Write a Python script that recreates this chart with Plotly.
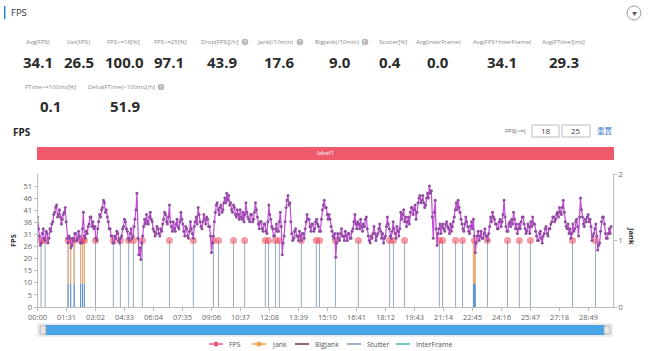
import plotly.graph_objects as go

W, H = 648, 351
FONT = "Open Sans, Noto Sans, Noto Sans CJK SC, sans-serif"

# ---------------- data ----------------
stat_labels_1 = ["Avg(FPS)", "Var(FPS)", "FPS>=18[%]", "FPS>=25[%]", "Drop(FPS)[/h]",
                 "Jank(/10min)", "BigJank(/10min)", "Stutter[%]", "Avg(InterFrame)",
                 "Avg(FPS+InterFrame)", "Avg(FTime)[ms]"]
stat_values_1 = ["34.1", "26.5", "100.0", "97.1", "43.9", "17.6", "9.0", "0.4", "0.0", "34.1", "29.3"]
stat_labels_2 = ["FTime>=100ms[%]", "Delta(FTime)>100ms[/h]"]
stat_values_2 = ["0.1", "51.9"]

fps_step_s = 3
fps_values = [
    38, 33, 30, 26, 27, 31, 33, 29, 28, 32, 31, 27, 29, 33, 32, 35, 36, 39, 40, 42,
    43, 38, 39, 41, 38, 35, 37, 39, 40, 42, 36, 29, 27, 30, 29, 25, 26, 29, 28, 31,
    31, 28, 29, 32, 30, 27, 27, 33, 40, 30, 29, 32, 31, 34, 35, 38, 38, 34, 36, 33,
    34, 29, 28, 33, 36, 39, 38, 41, 42, 45, 44, 40, 41, 38, 36, 33, 33, 30, 30, 27,
    27, 30, 29, 32, 31, 28, 27, 29, 30, 33, 34, 37, 36, 33, 32, 29, 28, 31, 33, 29,
    30, 34, 37, 41, 48, 29, 22, 25, 20, 27, 30, 34, 37, 35, 39, 36, 35, 38, 40, 37,
    36, 33, 32, 30, 31, 34, 33, 31, 30, 33, 32, 35, 37, 40, 39, 36, 35, 38, 43, 36,
    34, 32, 36, 33, 32, 35, 37, 34, 33, 36, 40, 37, 35, 32, 30, 34, 33, 30, 29, 32,
    36, 33, 31, 29, 34, 36, 38, 35, 42, 39, 36, 34, 33, 36, 39, 37, 35, 38, 37, 34,
    34, 30, 23, 27, 30, 36, 40, 43, 44, 41, 39, 42, 43, 40, 41, 44, 46, 44, 48, 45,
    47, 43, 44, 41, 40, 43, 42, 39, 38, 41, 39, 37, 41, 38, 37, 40, 36, 39, 44, 40,
    38, 37, 36, 39, 39, 36, 37, 40, 44, 41, 38, 35, 33, 36, 36, 33, 32, 35, 35, 32,
    31, 36, 43, 39, 37, 34, 33, 30, 30, 33, 35, 32, 32, 36, 40, 34, 22, 27, 30, 36,
    42, 45, 47, 43, 44, 36, 31, 28, 29, 32, 33, 30, 30, 28, 32, 30, 28, 31, 31, 29,
    33, 36, 39, 37, 37, 34, 32, 35, 35, 32, 33, 36, 37, 35, 34, 32, 32, 37, 41, 43,
    45, 42, 42, 39, 37, 39, 37, 34, 32, 30, 29, 31, 21, 27, 31, 29, 28, 31, 33, 30,
    30, 28, 32, 30, 28, 31, 31, 29, 29, 32, 33, 36, 39, 35, 33, 36, 35, 33, 37, 34,
    32, 35, 34, 37, 38, 33, 30, 28, 27, 30, 29, 31, 34, 31, 28, 30, 31, 33, 35, 32,
    29, 31, 27, 29, 30, 34, 38, 35, 33, 30, 29, 32, 36, 33, 31, 29, 34, 32, 30, 33,
    40, 37, 39, 41, 36, 38, 34, 36, 38, 35, 40, 42, 42, 39, 41, 43, 37, 40, 44, 46,
    47, 44, 45, 47, 44, 42, 43, 46, 48, 46, 51, 48, 49, 38, 29, 40, 45, 33, 26, 31,
    33, 35, 31, 34, 35, 33, 32, 35, 36, 34, 33, 31, 35, 32, 34, 36, 38, 41, 44, 41,
    45, 42, 40, 37, 35, 33, 32, 35, 38, 36, 34, 32, 31, 34, 36, 33, 37, 30, 23, 27,
    30, 32, 28, 30, 32, 29, 29, 31, 33, 30, 30, 28, 31, 34, 38, 36, 40, 38, 37, 35,
    35, 33, 33, 36, 37, 34, 36, 39, 45, 38, 34, 32, 32, 35, 36, 34, 37, 35, 40, 37,
    33, 35, 31, 33, 35, 33, 36, 38, 38, 35, 33, 31, 32, 35, 34, 31, 36, 34, 38, 35,
    35, 32, 30, 28, 28, 31, 32, 29, 27, 30, 31, 33, 34, 31, 30, 33, 33, 35, 36, 38,
    38, 36, 37, 39, 40, 38, 42, 40, 39, 42, 45, 40, 36, 34, 33, 35, 31, 33, 29, 31,
    35, 32, 33, 36, 37, 34, 30, 38, 46, 41, 38, 35, 34, 37, 36, 38, 39, 36, 37, 34,
    28, 30, 31, 33, 35, 30, 24, 26, 27, 32, 36, 38, 38, 35, 31, 29, 29, 31, 33, 31,
    34,
]
fps_times = [i * fps_step_s for i in range(len(fps_values))]

# jank events (seconds)
jank_times = [11, 24, 96, 104, 115, 135, 141, 147, 182, 238, 260, 286, 301, 329, 414,
              489, 552, 568, 615, 650, 715, 725, 747, 759, 828, 875, 885, 935, 1007,
              1105, 1117, 1152, 1261, 1271, 1312, 1334, 1371, 1412, 1475, 1512, 1547,
              1679, 1751]
orange_jank_times = [96, 104, 115, 135, 141, 147, 1368, 1371, 1374]

x_tick_seconds = [0, 91, 182, 273, 364, 455, 546, 637, 728, 819, 910, 1001, 1092,
                  1183, 1274, 1365, 1456, 1547, 1638, 1729]
x_tick_labels = ["00:00", "01:31", "03:02", "04:33", "06:04", "07:35", "09:06", "10:37",
                 "12:08", "13:39", "15:10", "16:41", "18:12", "19:43", "21:14", "22:45",
                 "24:16", "25:47", "27:18", "28:49"]
fps_tick_vals = [0, 5.1, 10.2, 15.3, 20.4, 25.5, 30.6, 35.7, 40.8, 45.9, 51.0]
fps_tick_labels = ["0", "5", "10", "15", "20", "26", "31", "36", "41", "46", "51"]
jank_tick_vals = [0, 1, 2]

legend_names = ["FPS", "Jank", "BigJank", "Stutter", "InterFrame"]
legend_colors = ["#e4607a", "#f0a050", "#7a2f48", "#7f97b8", "#46b5a5"]
legend_has_marker = [True, True, False, False, False]


def px(x):
    return x / W


def py(y):
    return 1 - y / H


def vlines(times, y0, y1):
    xs, ys = [], []
    for t in times:
        xs += [t, t, None]
        ys += [y0, y1, None]
    return xs, ys


fig = go.Figure()

# vertical event lines (jank axis, drawn beneath FPS)
sx, sy = vlines(jank_times, 0, 1)
fig.add_trace(go.Scatter(x=sx, y=sy, mode="lines", line=dict(color="#8da0bb", width=0.9),
                         yaxis="y", hoverinfo="skip", name="Stutter"))
ox, oy = vlines(orange_jank_times, 0.35, 1)
fig.add_trace(go.Scatter(x=ox, y=oy, mode="lines", line=dict(color="#ecab72", width=1.1),
                         yaxis="y", hoverinfo="skip", name="Jank"))
bx, by = vlines(orange_jank_times, 0, 0.35)
fig.add_trace(go.Scatter(x=bx, y=by, mode="lines", line=dict(color="#6496cf", width=1.1),
                         yaxis="y", hoverinfo="skip", name="Stutter2"))

# jank markers
fig.add_trace(go.Scatter(x=jank_times, y=[1] * len(jank_times), mode="markers", yaxis="y",
                         marker=dict(color="rgba(236,72,88,0.55)", size=7,
                                     line=dict(width=0)),
                         name="Jank points"))

# FPS line
fig.add_trace(go.Scatter(x=fps_times, y=fps_values, mode="lines+markers", yaxis="y2",
                         line=dict(color="#c24bd6", width=1.2),
                         marker=dict(color="#8f4d9f", size=3),
                         name="FPS"))

shapes = []
annotations = []


def text(t, x, y, size, color, anchor="center", angle=0, family=FONT):
    annotations.append(dict(text=t, x=px(x), y=py(y), xref="paper", yref="paper",
                            xanchor=anchor, yanchor="middle", showarrow=False,
                            textangle=angle, font=dict(size=size, color=color,
                                                       family=family)))


# header
shapes.append(dict(type="rect", xref="paper", yref="paper", x0=px(4), x1=px(5.5),
                   y0=py(19), y1=py(6), fillcolor="#2f7fd6", line=dict(width=0)))
text("FPS", 9, 12.5, 9.5, "#333", anchor="left")
shapes.append(dict(type="circle", xref="paper", yref="paper", x0=px(627), x1=px(641),
                   y0=py(20), y1=py(6), line=dict(color="#999", width=1),
                   fillcolor="white"))
text("▼", 634, 13, 5, "#555")

# stats
label_cx_1 = [38, 78, 123, 170, 219, 275, 337, 393, 438, 502, 563]
value_cx_1 = [38, 79, 124, 169, 222, 279, 340, 390, 438, 502, 564]
for lab, val, lx, vx in zip(stat_labels_1, stat_values_1, label_cx_1, value_cx_1):
    text(lab, lx, 42, 6, "#8a8a8a")
    text("<b>" + val + "</b>", vx, 62, 15, "#2b2b2b")
label_cx_2 = [50, 121]
value_cx_2 = [50, 125]
for lab, val, lx, vx in zip(stat_labels_2, stat_values_2, label_cx_2, value_cx_2):
    text(lab, lx, 87, 6, "#8a8a8a")
    text("<b>" + val + "</b>", vx, 106, 15, "#2b2b2b")
for qx, qy in [(245, 42), (300, 42), (365, 42), (161, 87)]:
    shapes.append(dict(type="circle", xref="paper", yref="paper", x0=px(qx - 3.3),
                       x1=px(qx + 3.3), y0=py(qy + 3.3), y1=py(qy - 3.3),
                       fillcolor="#b8b8b8", line=dict(width=0)))
    text("?", qx, qy, 5, "white")

# chart title + threshold controls
text("<b>FPS</b>", 11, 132, 10, "#222", anchor="left")
text("FPS(>=)", 528, 131, 6, "#666", anchor="right")
for x0, x1, t in [(532, 559, "18"), (562, 590, "25")]:
    shapes.append(dict(type="rect", xref="paper", yref="paper", x0=px(x0), x1=px(x1),
                       y0=py(137), y1=py(125), line=dict(color="#bbb", width=1),
                       fillcolor="white"))
    text(t, (x0 + x1) / 2, 131, 8, "#444")
text("重置", 605, 131, 7.5, "#4a7fd0", family="Noto Sans CJK SC")

# label band
shapes.append(dict(type="rect", xref="paper", yref="paper", x0=px(37), x1=px(614),
                   y0=py(160), y1=py(147), fillcolor="#ee5a6c", line=dict(width=0)))
text("label1", 325, 153.5, 6, "white")

# axis titles
text("<b>FPS</b>", 13, 241, 7.5, "#333", angle=-90)
text("<b>Jank</b>", 632, 236, 7.5, "#333", angle=90)

# data zoom slider look
shapes.append(dict(type="rect", xref="paper", yref="paper", x0=px(38), x1=px(612),
                   y0=py(336), y1=py(324), fillcolor="#f3f3f3",
                   line=dict(color="#ddd", width=1)))
shapes.append(dict(type="rect", xref="paper", yref="paper", x0=px(45), x1=px(605),
                   y0=py(335), y1=py(325), fillcolor="#47a4e6", line=dict(width=0)))
for x0, x1 in [(40, 46), (604, 610)]:
    shapes.append(dict(type="rect", xref="paper", yref="paper", x0=px(x0), x1=px(x1),
                       y0=py(334), y1=py(326), fillcolor="#e6e6e6",
                       line=dict(color="#aaa", width=0.8)))

# legend (drawn)
legend_sym_cx = [216, 259, 302, 354, 403]
for n, c, mk, cx in zip(legend_names, legend_colors, legend_has_marker, legend_sym_cx):
    shapes.append(dict(type="line", xref="paper", yref="paper", x0=px(cx - 7),
                       x1=px(cx + 7), y0=py(344), y1=py(344),
                       line=dict(color=c, width=1.5)))
    if mk:
        shapes.append(dict(type="circle", xref="paper", yref="paper", x0=px(cx - 2.5),
                           x1=px(cx + 2.5), y0=py(346.5), y1=py(341.5),
                           fillcolor=c, line=dict(width=0)))
    text(n, cx + 11, 344, 7, "#555", anchor="left")

axis_common = dict(showgrid=False, zeroline=False, showline=True, linecolor="#bbb",
                   linewidth=1, ticks="outside", ticklen=3, tickcolor="#bbb",
                   automargin=False,
                   tickfont=dict(size=7.5, color="#666", family=FONT))

fig.update_layout(
    width=W, height=H, autosize=False,
    margin=dict(l=0, r=0, t=0, b=0, pad=0),
    paper_bgcolor="white", plot_bgcolor="white",
    font=dict(family=FONT),
    showlegend=False,
    xaxis=dict(domain=[px(37.5), px(613)], range=[0, 1806], tickmode="array",
               tickvals=x_tick_seconds, ticktext=x_tick_labels, anchor="y",
               **axis_common),
    yaxis=dict(domain=[py(307), py(174)], range=[0, 2], side="right", tickmode="array",
               tickvals=jank_tick_vals, anchor="x", **axis_common),
    yaxis2=dict(overlaying="y", side="left", range=[0, 56.1], tickmode="array",
                tickvals=fps_tick_vals, ticktext=fps_tick_labels, anchor="x",
                **axis_common),
    shapes=shapes, annotations=annotations,
    hovermode=False,
)

fig.write_html("out.html")
